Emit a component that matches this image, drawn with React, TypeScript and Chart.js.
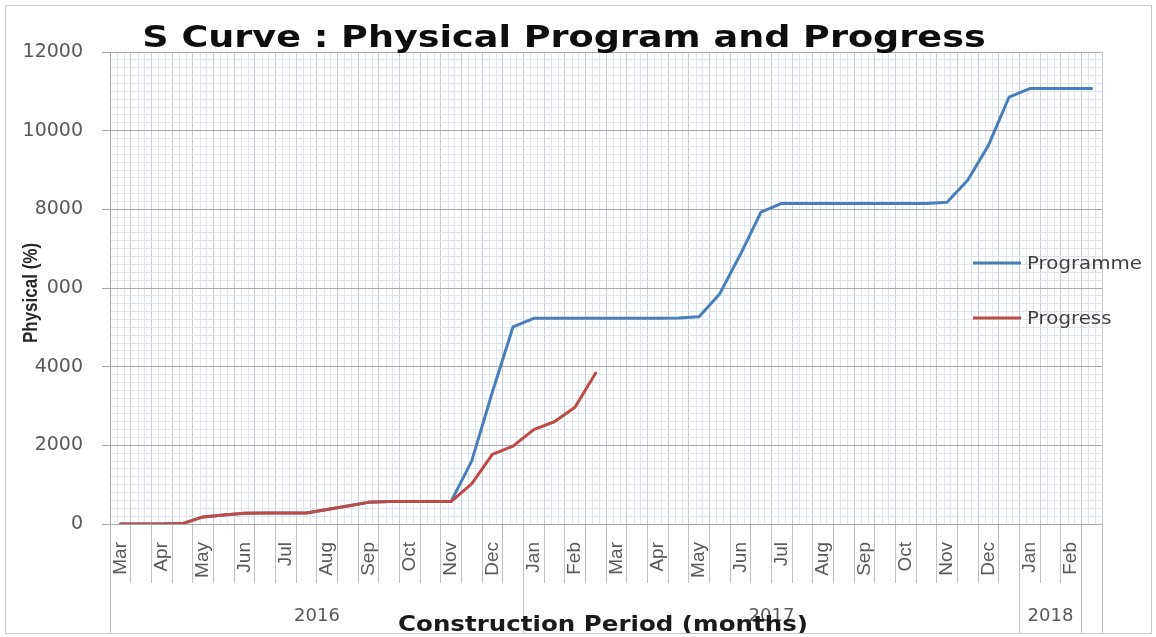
import React, { useEffect, useRef } from "react";
import { Chart, registerables } from "chart.js";

Chart.register(...registerables);

// ---- Data ----
const months = [
  "Mar", "Apr", "May", "Jun", "Jul", "Aug", "Sep", "Oct", "Nov", "Dec", "Jan", "Feb",
  "Mar", "Apr", "May", "Jun", "Jul", "Aug", "Sep", "Oct", "Nov", "Dec", "Jan", "Feb",
];
// two half-month categories per month, the label sits on the first one
const categories = months.flatMap((m) => [m, ""]);

const yearLabels = ["2016", "2017", "2018", ""];
const yearSpans = [20, 24, 3, 1]; // number of half-month categories in each group

const programme = [
  0, 0, 0, 10, 180, 230, 275, 280, 280, 280, 370, 460, 550, 570, 570, 570,
  570, 1600, 3350, 5010, 5230, 5230, 5230, 5230, 5230, 5230, 5230, 5240,
  5270, 5850, 6850, 7930, 8150, 8150, 8150, 8150, 8150, 8150, 8150, 8150,
  8180, 8740, 9620, 10850, 11070, 11070, 11070, 11070,
];

const progress = [
  0, 0, 0, 10, 180, 230, 275, 280, 280, 280, 370, 460, 550, 570, 570, 570,
  570, 1020, 1770, 1980, 2400, 2600, 2970, 3840,
];

const yTickStep = 2000;
const yMinorStep = 200;
const yMax = 12000;

const titleText = "S Curve : Physical Program and Progress";
const xTitleText = "Construction Period (months)";
const yTitleText = "Physical (%)";

const seriesNames = ["Programme", "Progress"];
const seriesColors = ["#4a7ebb", "#be4b48"];

function sText(
  ctx: CanvasRenderingContext2D,
  text: string,
  x: number,
  y: number,
  font: string,
  color: string,
  sx: number,
  align: CanvasTextAlign = "center",
  baseline: CanvasTextBaseline = "middle"
) {
  ctx.save();
  ctx.font = font;
  ctx.fillStyle = color;
  ctx.textAlign = align;
  ctx.textBaseline = baseline;
  ctx.translate(x, y);
  ctx.scale(sx, 1);
  ctx.fillText(text, 0, 0);
  ctx.restore();
}

const decor = {
  id: "decor",
  beforeDraw(chart: any) {
    const { ctx, chartArea: a } = chart;
    const x = chart.scales.x;
    ctx.save();
    ctx.fillStyle = "#ffffff";
    ctx.fillRect(0, 0, chart.width, chart.height);
    const w = x.getPixelForValue(1) - x.getPixelForValue(0);
    ctx.strokeStyle = "#dfe6f0";
    ctx.lineWidth = 1;
    ctx.beginPath();
    for (let i = 0; i < categories.length; i++) {
      const left = x.getPixelForValue(i) - w / 2;
      for (const f of [1 / 3, 2 / 3]) {
        const px = Math.round(left + f * w) + 0.5;
        ctx.moveTo(px, a.top);
        ctx.lineTo(px, a.bottom);
      }
    }
    ctx.stroke();
    ctx.restore();
  },
  afterDraw(chart: any) {
    const { ctx, chartArea: a } = chart;
    const x = chart.scales.x;
    const w = x.getPixelForValue(1) - x.getPixelForValue(0);
    ctx.save();

    // year group separators + labels
    ctx.strokeStyle = "#bfbfbf";
    ctx.lineWidth = 1;
    let start = 0;
    const edge = (k: number) => Math.round(x.getPixelForValue(k) - w / 2) + 0.5;
    ctx.beginPath();
    ctx.moveTo(edge(0), a.bottom);
    ctx.lineTo(edge(0), 634);
    ctx.stroke();
    yearLabels.forEach((lab, gi) => {
      const end = start + yearSpans[gi];
      const x0 = edge(start);
      const x1 = edge(end);
      ctx.beginPath();
      ctx.moveTo(x1, a.bottom);
      ctx.lineTo(x1, 634);
      ctx.stroke();
      if (lab) sText(ctx, lab, (x0 + x1) / 2, 616, '18px "DejaVu Sans"', "#595959", 1.0);
      start = end;
    });

    // chart title
    sText(ctx, titleText, 564, 47, 'bold 31px "DejaVu Sans"', "#0d0d0d", 1.18, "center", "alphabetic");

    // x axis title
    sText(ctx, xTitleText, 603, 631, 'bold 22px "DejaVu Sans"', "#1a1a1a", 1.115, "center", "alphabetic");

    // y axis title (rotated) with white backing
    ctx.save();
    ctx.translate(31, 293);
    ctx.rotate(-Math.PI / 2);
    ctx.scale(0.85, 1);
    ctx.font = 'bold 20px "Liberation Sans"';
    const tw = ctx.measureText(yTitleText).width;
    ctx.fillStyle = "#ffffff";
    ctx.fillRect(-tw / 2 - 2, -14, tw + 4, 29);
    ctx.fillStyle = "#262626";
    ctx.textAlign = "center";
    ctx.textBaseline = "middle";
    ctx.fillText(yTitleText, 0, 0);
    ctx.restore();

    // legend
    const legY = [263, 318];
    seriesNames.forEach((name, i) => {
      ctx.strokeStyle = seriesColors[i];
      ctx.lineWidth = 3;
      ctx.beginPath();
      ctx.moveTo(973, legY[i]);
      ctx.lineTo(1021, legY[i]);
      ctx.stroke();
      sText(ctx, name, 1027, legY[i] + 1, '18px "DejaVu Sans"', "#404040", 1.1, "left", "middle");
    });

    // outer border
    ctx.strokeStyle = "#c8c8c8";
    ctx.lineWidth = 1;
    ctx.strokeRect(5.5, 5.5, 1146, 628);
    ctx.restore();
  },
};

export default function App() {
  const ref = useRef<HTMLCanvasElement | null>(null);

  useEffect(() => {
    if (!ref.current) return;
    const chart = new Chart(ref.current, {
      type: "line",
      data: {
        labels: categories,
        datasets: [
          {
            label: seriesNames[0],
            data: programme,
            borderColor: seriesColors[0],
            backgroundColor: seriesColors[0],
            borderWidth: 3,
            pointRadius: 0,
            tension: 0,
            fill: false,
            borderJoinStyle: "round",
            borderCapStyle: "round",
            order: 1,
          },
          {
            label: seriesNames[1],
            data: progress,
            borderColor: seriesColors[1],
            backgroundColor: seriesColors[1],
            borderWidth: 3,
            pointRadius: 0,
            tension: 0,
            fill: false,
            borderJoinStyle: "round",
            borderCapStyle: "round",
            order: 0,
          },
        ],
      },
      options: {
        responsive: false,
        animation: false,
        devicePixelRatio: 1,
        layout: { padding: { left: 0, top: 52, right: 54, bottom: 3 } },
        plugins: {
          legend: { display: false },
          title: { display: false },
          tooltip: { enabled: false },
        },
        scales: {
          x: {
            type: "category",
            offset: true,
            afterFit: (s: any) => {
              s.height = 110;
            },
            grid: {
              offset: true,
              color: "#c3cddb",
              tickLength: 59,
              tickColor: "#c0c0c0",
            },
            border: { color: "#a6a6a6" },
            ticks: {
              autoSkip: false,
              minRotation: 90,
              maxRotation: 90,
              padding: -41,
              color: "#595959",
              font: { family: "Liberation Sans", size: 19 },
            },
          },
          y: {
            min: 0,
            max: yMax,
            afterFit: (s: any) => {
              s.width = 110;
            },
            grid: {
              color: (c: any) => (c.tick && c.tick.value % yTickStep === 0 ? "#a9a9a9" : "#dce4ee"),
              tickColor: (c: any) => (c.tick && c.tick.value % yTickStep === 0 ? "#a9a9a9" : "rgba(0,0,0,0)"),
              tickLength: 8,
            },
            border: { color: "#a6a6a6" },
            ticks: {
              stepSize: yMinorStep,
              autoSkip: false,
              padding: 19,
              color: "#595959",
              font: { family: "DejaVu Sans", size: 19 },
              callback: (v: any) => (Number(v) % yTickStep === 0 ? String(v) : ""),
            },
          },
        },
      },
      plugins: [decor],
    } as any);
    return () => chart.destroy();
  }, []);

  return (
    <div style={{ position: "absolute", left: 0, top: 0, width: 1156, height: 637 }}>
      <canvas ref={ref} width={1156} height={637} style={{ display: "block" }} />
    </div>
  );
}
